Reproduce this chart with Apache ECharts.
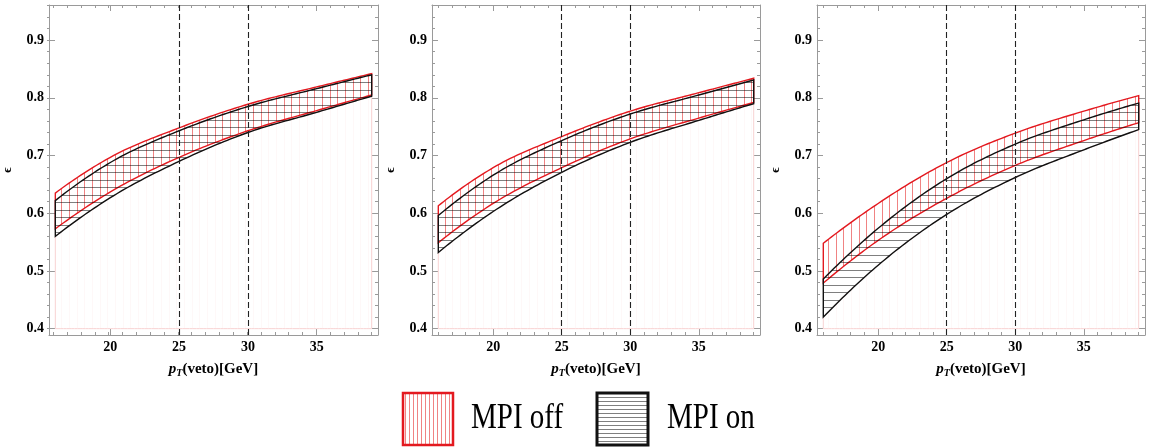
<!DOCTYPE html>
<html><head><meta charset="utf-8">
<script src="https://cdn.jsdelivr.net/npm/echarts@6/dist/echarts.min.js"></script>
<style>html,body{margin:0;padding:0;background:#fff}#c{width:1151px;height:448px}</style>
</head><body><div id="c"></div>
<script>
// ---------- data ----------
const xs = [16, 20, 25, 30, 35, 39];
// panel 1
const off1Hi = [0.635, 0.697, 0.748, 0.789, 0.819, 0.842];
const off1Lo = [0.573, 0.637, 0.697, 0.743, 0.778, 0.805];
const on1Hi  = [0.622, 0.688, 0.743, 0.785, 0.816, 0.840];
const on1Lo  = [0.560, 0.627, 0.690, 0.740, 0.775, 0.803];
// panel 2
const off2Hi = [0.613, 0.679, 0.733, 0.777, 0.809, 0.834];
const off2Lo = [0.549, 0.617, 0.679, 0.729, 0.765, 0.792];
const on2Hi  = [0.596, 0.666, 0.726, 0.772, 0.805, 0.831];
const on2Lo  = [0.532, 0.603, 0.671, 0.723, 0.761, 0.790];
// panel 3
const off3Hi = [0.548, 0.617, 0.688, 0.739, 0.777, 0.804];
const off3Lo = [0.479, 0.553, 0.626, 0.683, 0.726, 0.757];
const on3Hi  = [0.486, 0.574, 0.660, 0.720, 0.762, 0.791];
const on3Lo  = [0.420, 0.510, 0.598, 0.662, 0.710, 0.745];

const xTickLabels = [20, 25, 30, 35];
const xMinorTicks = [16,17,18,19,20,21,22,23,24,25,26,27,28,29,30,31,32,33,34,35,36,37,38,39];
const yTickLabels = [0.4, 0.5, 0.6, 0.7, 0.8, 0.9];
const yMinorTicks = [0.40,0.42,0.44,0.46,0.48,0.50,0.52,0.54,0.56,0.58,0.60,0.62,0.64,0.66,0.68,0.70,0.72,0.74,0.76,0.78,0.80,0.82,0.84,0.86,0.88,0.90,0.92,0.94,0.96];
const vLines = [25, 30];
const fillBase = 0.4;
const xRange = [15.54, 39.46];
const yRange = [0.389, 0.961];
const legendNames = ['MPI off', 'MPI on'];
const xName = ['p', 'T', '(veto)[GeV]'];
const yName = 'ϵ';

// ---------- styles ----------
const RED = '#e3191f', BLACK = '#111111', FRAME = '#9a9a9a';
const SERIF = '"Liberation Serif", "DejaVu Serif", serif';

function hatch(w, h, color, vertical, offsets) {
  const c = document.createElement('canvas');
  c.width = w; c.height = h;
  const g = c.getContext('2d');
  g.fillStyle = color;
  offsets.forEach(o => { if (vertical) g.fillRect(o, 0, 1, h); else g.fillRect(0, o, w, 1); });
  return { image: c, repeat: 'repeat' };
}
const redHatch = hatch(23, 4, 'rgba(228,30,30,0.55)', true, [0, 8, 15]);
const blackHatch = hatch(4, 15, 'rgba(0,0,0,0.5)', false, [0, 7]);
const faintHatch = hatch(23, 4, 'rgba(228,60,60,0.035)', true, [0, 8, 15]);
const legRed = hatch(4, 4, 'rgba(228,30,30,0.55)', true, [1]);
const legBlack = hatch(4, 4, 'rgba(0,0,0,0.5)', false, [1]);

// smooth pixel curve through points (piecewise cubic Hermite, x as parameter) – rendering only
function smoothPts(pts, seg) {
  const n = pts.length, h = [], d = [], m = [];
  for (let i = 0; i < n - 1; i++) { h.push(pts[i + 1][0] - pts[i][0]); d.push((pts[i + 1][1] - pts[i][1]) / h[i]); }
  m[0] = d[0] * (2 * h[0] + h[1]) / (h[0] + h[1]) - d[1] * h[0] / (h[0] + h[1]);
  for (let i = 1; i < n - 1; i++) m[i] = (d[i - 1] * h[i] + d[i] * h[i - 1]) / (h[i - 1] + h[i]);
  const a = h[n - 2], b = h[n - 3];
  m[n - 1] = d[n - 2] * (2 * a + b) / (a + b) - d[n - 3] * a / (a + b);
  const out = [];
  for (let i = 0; i < n - 1; i++) {
    for (let s = 0; s < seg; s++) {
      const t = s / seg, t2 = t * t, t3 = t2 * t;
      const h00 = 2 * t3 - 3 * t2 + 1, h10 = t3 - 2 * t2 + t, h01 = -2 * t3 + 3 * t2, h11 = t3 - t2;
      out.push([pts[i][0] + t * h[i], h00 * pts[i][1] + h10 * h[i] * m[i] + h01 * pts[i + 1][1] + h11 * h[i] * m[i + 1]]);
    }
  }
  out.push(pts[n - 1]);
  return out;
}

const panels = [
  { offHi: off1Hi, offLo: off1Lo, onHi: on1Hi, onLo: on1Lo, left: 47, width: 331 },
  { offHi: off2Hi, offLo: off2Lo, onHi: on2Hi, onLo: on2Lo, left: 432, width: 328 },
  { offHi: off3Hi, offLo: off3Lo, onHi: on3Hi, onLo: on3Lo, left: 817, width: 328 }
];
const TOP = 5, HEIGHT = 330;

const grid = [], xAxis = [], yAxis = [], series = [];

panels.forEach((p, i) => {
  grid.push({ left: p.left, top: TOP, width: p.width, height: HEIGHT });
  grid.push({ left: p.left, top: TOP, width: p.width, height: HEIGHT });
  const gMain = 2 * i, gMinor = 2 * i + 1;
  const baseX = { type: 'value', min: xRange[0], max: xRange[1], splitLine: { show: false } };
  const baseY = { type: 'value', min: yRange[0], max: yRange[1], splitLine: { show: false } };
  xAxis.push(Object.assign({}, baseX, {
    gridIndex: gMain, position: 'bottom',
    axisLine: { show: true, onZero: false, lineStyle: { color: FRAME } },
    axisTick: { show: true, inside: true, length: 6, customValues: xTickLabels, lineStyle: { color: FRAME } },
    axisLabel: { show: true, customValues: xTickLabels, margin: 5, color: '#000', fontFamily: SERIF, fontWeight: 'bold', fontSize: 14 },
    name: '{p|' + xName[0] + '}{t|' + xName[1] + '}{n|' + xName[2] + '}',
    nameLocation: 'middle', nameGap: 25,
    nameTextStyle: {
      color: '#000', fontFamily: SERIF, fontWeight: 'bold', fontSize: 15,
      rich: {
        p: { fontFamily: SERIF, fontStyle: 'italic', fontWeight: 'bold', fontSize: 15, color: '#000', lineHeight: 18 },
        t: { fontFamily: SERIF, fontStyle: 'italic', fontWeight: 'bold', fontSize: 10, color: '#000', verticalAlign: 'bottom', lineHeight: 12 },
        n: { fontFamily: SERIF, fontWeight: 'bold', fontSize: 15, color: '#000', lineHeight: 18 }
      }
    }
  }));
  xAxis.push(Object.assign({}, baseX, {
    gridIndex: gMain, position: 'top',
    axisLine: { show: true, onZero: false, lineStyle: { color: FRAME } },
    axisTick: { show: true, inside: true, length: 6, customValues: xTickLabels, lineStyle: { color: FRAME } },
    axisLabel: { show: false }
  }));
  xAxis.push(Object.assign({}, baseX, {
    gridIndex: gMinor, position: 'bottom',
    axisLine: { show: false, onZero: false },
    axisTick: { show: true, inside: true, length: 3, customValues: xMinorTicks, lineStyle: { color: FRAME } },
    axisLabel: { show: false }
  }));
  xAxis.push(Object.assign({}, baseX, {
    gridIndex: gMinor, position: 'top',
    axisLine: { show: false, onZero: false },
    axisTick: { show: true, inside: true, length: 3, customValues: xMinorTicks, lineStyle: { color: FRAME } },
    axisLabel: { show: false }
  }));
  yAxis.push(Object.assign({}, baseY, {
    gridIndex: gMain, position: 'left',
    axisLine: { show: true, onZero: false, lineStyle: { color: FRAME } },
    axisTick: { show: true, inside: true, length: 6, customValues: yTickLabels, lineStyle: { color: FRAME } },
    axisLabel: { show: true, customValues: yTickLabels, margin: 5, color: '#000', fontFamily: SERIF, fontWeight: 'bold', fontSize: 14, formatter: v => v.toFixed(1) },
    name: yName, nameLocation: 'middle', nameGap: 35,
    nameTextStyle: { color: '#000', fontFamily: SERIF, fontWeight: 'bold', fontSize: 13 }
  }));
  yAxis.push(Object.assign({}, baseY, {
    gridIndex: gMain, position: 'right',
    axisLine: { show: true, onZero: false, lineStyle: { color: FRAME } },
    axisTick: { show: true, inside: true, length: 6, customValues: yTickLabels, lineStyle: { color: FRAME } },
    axisLabel: { show: false }
  }));
  yAxis.push(Object.assign({}, baseY, {
    gridIndex: gMinor, position: 'left',
    axisLine: { show: false, onZero: false },
    axisTick: { show: true, inside: true, length: 3, customValues: yMinorTicks, lineStyle: { color: FRAME } },
    axisLabel: { show: false }
  }));
  yAxis.push(Object.assign({}, baseY, {
    gridIndex: gMinor, position: 'right',
    axisLine: { show: false, onZero: false },
    axisTick: { show: true, inside: true, length: 3, customValues: yMinorTicks, lineStyle: { color: FRAME } },
    axisLabel: { show: false }
  }));

  const xi = 4 * i, yi = 4 * i;
  const lowest = xs.map((x, k) => Math.min(p.offLo[k], p.onLo[k]));

  function bandSeries(lo, hi, fill, stroke, lw, z) {
    return {
      type: 'custom', xAxisIndex: xi, yAxisIndex: yi, silent: true, animation: false, z: z,
      data: xs.map((x, k) => [x, lo[k], hi[k]]),
      encode: { x: 0, y: [1, 2] },
      clip: true,
      renderItem: function (params, api) {
        if (params.dataIndex !== 0) return null;
        const top = smoothPts(xs.map((x, k) => api.coord([x, hi[k]])), 20);
        const bot = smoothPts(xs.map((x, k) => api.coord([x, lo[k]])), 20);
        const poly = top.concat(bot.reverse());
        return {
          type: 'polygon',
          shape: { points: poly },
          style: { fill: fill, stroke: stroke, lineWidth: lw, lineJoin: 'miter' }
        };
      }
    };
  }
  const baseArr = xs.map(() => fillBase);
  series.push(bandSeries(baseArr, lowest, faintHatch, '#f8d2d2', 1, 1));
  series.push(bandSeries(p.offLo, p.offHi, redHatch, RED, 1.4, 2));
  series.push(bandSeries(p.onLo, p.onHi, blackHatch, BLACK, 1.4, 3));

  series.push({
    type: 'line', xAxisIndex: xi, yAxisIndex: yi, data: [], symbol: 'none', silent: true, animation: false, z: 4,
    markLine: {
      silent: true, symbol: 'none', animation: false, label: { show: false },
      lineStyle: { color: '#222', type: [6, 3], width: 1.1 },
      data: vLines.map(v => ({ xAxis: v }))
    }
  });
});

const graphic = [
  { type: 'rect', shape: { x: 403, y: 393, width: 50, height: 52 }, style: { fill: legRed, stroke: RED, lineWidth: 2.5 } },
  { type: 'text', x: 471, y: 418, scaleY: 1.25, style: { text: legendNames[0], font: '29px ' + SERIF, fill: '#000', align: 'left', verticalAlign: 'middle' } },
  { type: 'rect', shape: { x: 597, y: 393, width: 51, height: 52 }, style: { fill: legBlack, stroke: BLACK, lineWidth: 3 } },
  { type: 'text', x: 667, y: 418, scaleY: 1.25, style: { text: legendNames[1], font: '29px ' + SERIF, fill: '#000', align: 'left', verticalAlign: 'middle' } }
];

const chart = echarts.init(document.getElementById('c'), null, { renderer: 'canvas' });
chart.setOption({ animation: false, backgroundColor: '#fff', grid, xAxis, yAxis, series, graphic });
</script></body></html>
